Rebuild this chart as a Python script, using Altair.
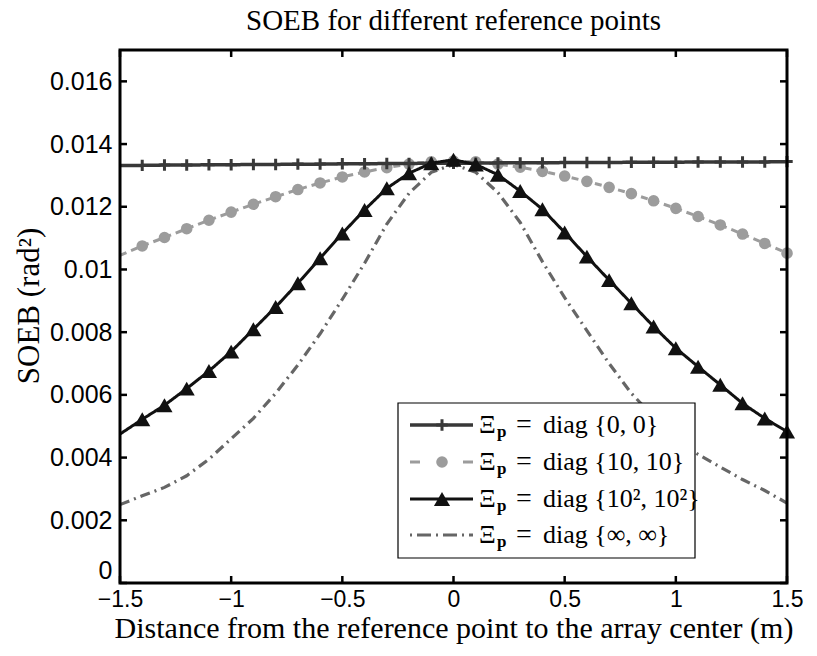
import altair as alt
import pandas as pd

# ---------------- data ----------------
x_pos = [-1.5, -1.4, -1.3, -1.2, -1.1, -1.0, -0.9, -0.8, -0.7, -0.6, -0.5,
         -0.4, -0.3, -0.2, -0.1, 0.0, 0.1, 0.2, 0.3, 0.4, 0.5,
         0.6, 0.7, 0.8, 0.9, 1.0, 1.1, 1.2, 1.3, 1.4, 1.5]

soeb_zero = [0.01332, 0.01332, 0.01333, 0.01333, 0.01334, 0.01334, 0.01335, 0.01335,
             0.01336, 0.01336, 0.01337, 0.01337, 0.01338, 0.01338, 0.01339, 0.01339,
             0.01339, 0.01340, 0.01340, 0.01340, 0.01341, 0.01341, 0.01341, 0.01342,
             0.01342, 0.01342, 0.01343, 0.01343, 0.01343, 0.01343, 0.01344]

soeb_ten = [0.01045, 0.01075, 0.01102, 0.01130, 0.01157, 0.01183, 0.01208, 0.01232,
            0.01255, 0.01276, 0.01295, 0.01311, 0.01325, 0.01336, 0.01343, 0.01346,
            0.01343, 0.01336, 0.01326, 0.01313, 0.01298, 0.01281, 0.01262, 0.01242,
            0.01219, 0.01195, 0.01169, 0.01142, 0.01113, 0.01083, 0.01052]

soeb_hundred = [0.00475, 0.00522, 0.00567, 0.00620, 0.00676, 0.00738, 0.00809, 0.00880,
                0.00956, 0.01036, 0.01115, 0.01190, 0.01259, 0.01307, 0.01339, 0.01350,
                0.01335, 0.01302, 0.01250, 0.01192, 0.01118, 0.01041, 0.00966, 0.00892,
                0.00818, 0.00749, 0.00690, 0.00632, 0.00573, 0.00525, 0.00483]

soeb_inf = [0.00250, 0.00278, 0.00305, 0.00342, 0.00395, 0.00460, 0.00525, 0.00605,
            0.00695, 0.00795, 0.00905, 0.01020, 0.01145, 0.01243, 0.01310, 0.01335,
            0.01310, 0.01245, 0.01150, 0.01025, 0.00910, 0.00805, 0.00700, 0.00605,
            0.00530, 0.00465, 0.00410, 0.00370, 0.00330, 0.00295, 0.00255]

series_keys = ["zero", "ten", "hundred", "inf"]
series_vals = [soeb_zero, soeb_ten, soeb_hundred, soeb_inf]
legend_texts = ["diag {0, 0}", "diag {10, 10}", "diag {10\u00b2, 10\u00b2}", "diag {\u221e, \u221e}"]

x_ticks = [-1.5, -1.0, -0.5, 0.0, 0.5, 1.0, 1.5]
y_ticks = [0.0, 0.002, 0.004, 0.006, 0.008, 0.010, 0.012, 0.014, 0.016]

# ---------------- styling ----------------
W, H = 667, 533
SERIF = "Liberation Serif"
SANS = "Liberation Sans"
colors = {"zero": "#383838", "ten": "#9c9c9c", "hundred": "#111111", "inf": "#666666"}
dashes = {"zero": [1, 0], "ten": [7, 5], "hundred": [1, 0], "inf": [10, 5, 2, 5]}
widths = {"zero": 3.5, "ten": 3, "hundred": 3, "inf": 3.2}
PLUS = "M-1,0L1,0M0,-1L0,1"

rows = []
for key, vals in zip(series_keys, series_vals):
    for xv, yv in zip(x_pos, vals):
        rows.append({"x": xv, "y": yv, "series": key})
df = pd.DataFrame(rows)

xscale = alt.Scale(domain=[-1.5, 1.5], nice=False, zero=False)
yscale = alt.Scale(domain=[0, 0.017], nice=False, zero=False)
xaxis = alt.Axis(values=x_ticks, format="~g", ticks=False, domain=False, grid=False,
                 labelFont=SANS, labelFontSize=23, labelColor="black",
                 labelPadding=5, labelFlush=False,
                 title="Distance from the reference point to the array center (m)",
                 titleFont=SERIF, titleFontSize=30, titleFontWeight="normal",
                 titleColor="black", titlePadding=2)
yaxis = alt.Axis(values=y_ticks, format="~g", ticks=False, domain=False, grid=False,
                 labelFont=SANS, labelFontSize=25, labelColor="black",
                 labelPadding=8, labelFlush=False,
                 labelBaseline={"condition": {"test": "datum.value == 0", "value": "bottom"},
                                "value": "middle"},
                 title="SOEB (rad\u00b2)", titleY=H / 2 - 11,
                 titleFont=SERIF, titleFontSize=31, titleFontWeight="normal",
                 titleColor="black", titlePadding=4)

X = alt.X("x:Q", scale=xscale, axis=xaxis)
Y = alt.Y("y:Q", scale=yscale, axis=yaxis)

layers = []
order = ["inf", "ten", "zero", "hundred"]
for key in order:
    sub = df[df.series == key]
    layers.append(
        alt.Chart(sub).mark_line(color=colors[key], strokeDash=dashes[key],
                                 strokeWidth=widths[key]).encode(x=X, y=Y)
    )
    mk = sub[sub.x > -1.45]
    if key == "zero":
        layers.append(alt.Chart(mk).mark_point(shape=PLUS, filled=False, color=colors[key],
                                               strokeWidth=3, size=130, opacity=1).encode(x=X, y=Y))
    elif key == "ten":
        layers.append(alt.Chart(mk).mark_point(shape="circle", filled=True, color=colors[key],
                                               size=135, opacity=1).encode(x=X, y=Y))
    elif key == "hundred":
        layers.append(alt.Chart(mk).mark_point(shape="triangle-up", filled=True, color=colors[key],
                                               size=260, opacity=1).encode(x=X, y=Y))

# inner ticks on all four sides
xt = pd.DataFrame({"x": x_ticks})
yt = pd.DataFrame({"y": y_ticks})
layers.append(alt.Chart(xt).mark_rule(color="black", strokeWidth=2.5).encode(
    x=X, y=alt.value(0), y2=alt.value(7)))
layers.append(alt.Chart(xt).mark_rule(color="black", strokeWidth=2.5).encode(
    x=X, y=alt.value(H - 7), y2=alt.value(H)))
layers.append(alt.Chart(yt).mark_rule(color="black", strokeWidth=2.5).encode(
    y=Y, x=alt.value(0), x2=alt.value(7)))
layers.append(alt.Chart(yt).mark_rule(color="black", strokeWidth=2.5).encode(
    y=Y, x=alt.value(W - 7), x2=alt.value(W)))

one = alt.Data(values=[{"k": 0}])

# frame
layers.append(alt.Chart(one).mark_rect(fill=None, fillOpacity=0, stroke="black", strokeWidth=3).encode(
    x=alt.value(0), x2=alt.value(W), y=alt.value(0), y2=alt.value(H)))

# ---------------- manual legend ----------------
LX0, LX1, LY0, LY1 = 278, 575, 353, 508
row_y = [375, 412, 449, 485]
sym_x0, sym_x1, sym_xc = 290, 353, 322
layers.append(alt.Chart(one).mark_rect(fill="white", stroke="black", strokeWidth=1.2).encode(
    x=alt.value(LX0), x2=alt.value(LX1), y=alt.value(LY0), y2=alt.value(LY1)))
leg_dash = {"zero": [1, 0], "ten": [10, 43], "hundred": [1, 0], "inf": [2, 5, 14, 5]}
for i, key in enumerate(series_keys):
    ry = row_y[i]
    layers.append(alt.Chart(one).mark_rule(color=colors[key], strokeDash=leg_dash[key],
                                           strokeWidth=widths[key]).encode(
        x=alt.value(sym_x0), x2=alt.value(sym_x1), y=alt.value(ry)))
    if key == "zero":
        layers.append(alt.Chart(one).mark_point(shape=PLUS, filled=False, color=colors[key],
                                                strokeWidth=3, size=130, opacity=1).encode(
            x=alt.value(sym_xc), y=alt.value(ry)))
    elif key == "ten":
        layers.append(alt.Chart(one).mark_point(shape="circle", filled=True, color=colors[key],
                                                size=135, opacity=1).encode(
            x=alt.value(sym_xc), y=alt.value(ry)))
    elif key == "hundred":
        layers.append(alt.Chart(one).mark_point(shape="triangle-up", filled=True, color=colors[key],
                                                size=260, opacity=1).encode(
            x=alt.value(sym_xc), y=alt.value(ry)))
    layers.append(alt.Chart(one).mark_text(text="\u039e", font=SERIF, fontSize=26,
                                           align="left", baseline="middle", color="black").encode(
        x=alt.value(359), y=alt.value(ry)))
    layers.append(alt.Chart(one).mark_text(text="p", font=SERIF, fontSize=17,
                                           fontWeight="bold", align="left", baseline="middle",
                                           color="black").encode(
        x=alt.value(377), y=alt.value(ry + 7)))
    layers.append(alt.Chart(one).mark_text(text="=", font=SERIF, fontSize=28,
                                           align="left", baseline="middle", color="black").encode(
        x=alt.value(396), y=alt.value(ry)))
    layers.append(alt.Chart(one).mark_text(text=legend_texts[i], font=SERIF, fontSize=26,
                                           align="left", baseline="middle", color="black").encode(
        x=alt.value(423), y=alt.value(ry)))

chart = alt.layer(*layers).properties(
    width=W, height=H,
    title=alt.TitleParams("SOEB for different reference points", font=SERIF,
                          fontSize=29, fontWeight="normal", color="black", anchor="middle",
                          offset=13),
    autosize=alt.AutoSizeParams(type="none"),
    padding={"left": 120, "top": 50, "right": 30, "bottom": 73},
).configure_view(strokeWidth=0).configure(background="white")

chart.save("out.html", embed_options={"renderer": "svg", "actions": False})
